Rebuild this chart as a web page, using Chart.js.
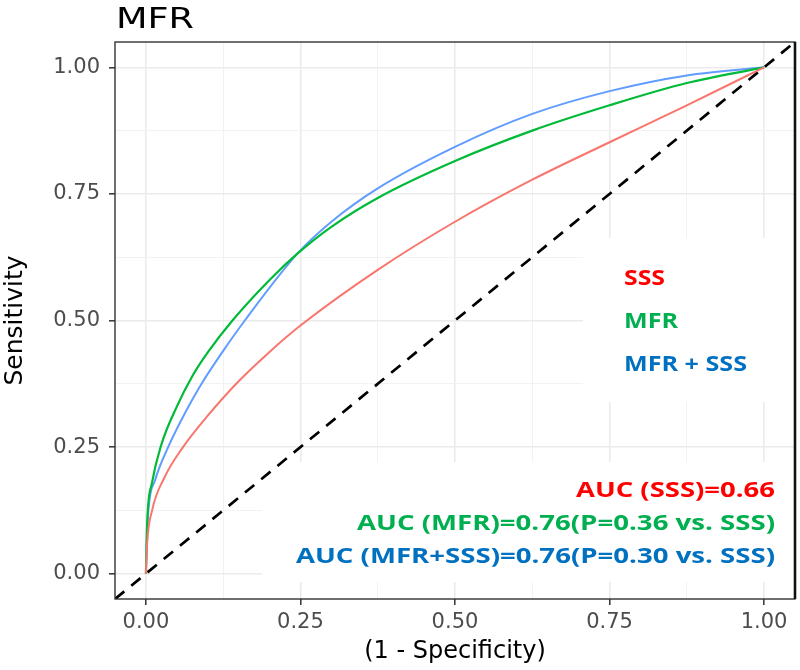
<!DOCTYPE html>
<html>
<head>
<meta charset="utf-8">
<title>MFR ROC</title>
<script src="https://cdn.jsdelivr.net/npm/chart.js@4.4.1/dist/chart.umd.min.js"></script>
<style>
  html, body { margin: 0; padding: 0; background: #fff; }
  #wrap { width: 800px; height: 670px; }
</style>
</head>
<body>
<div id="wrap"><canvas id="rocChart"></canvas></div>
<script>
// ROC curves: x = 1 - specificity, y = sensitivity
const sssFpr = [0, 0.002, 0.01, 0.03, 0.06, 0.1, 0.15, 0.2, 0.25, 0.375, 0.5, 0.625, 0.75, 0.875, 1];
const sssTpr = [0, 0.06, 0.125, 0.19, 0.25, 0.312, 0.38, 0.438, 0.49, 0.6, 0.695, 0.778, 0.852, 0.925, 1];

const mfrFpr = [0, 0.002, 0.01, 0.025, 0.05, 0.075, 0.1, 0.14, 0.2, 0.245, 0.3, 0.375, 0.5, 0.625, 0.75, 0.875, 1];
const mfrTpr = [0, 0.1, 0.18, 0.255, 0.33, 0.39, 0.437, 0.5, 0.58, 0.632, 0.685, 0.742, 0.815, 0.875, 0.925, 0.969, 1];

const bothFpr = [0, 0.001, 0.004, 0.015, 0.036, 0.058, 0.09, 0.125, 0.16, 0.245, 0.3, 0.375, 0.5, 0.625, 0.75, 0.875, 1];
const bothTpr = [0, 0.05, 0.125, 0.185, 0.25, 0.305, 0.375, 0.44, 0.5, 0.632, 0.695, 0.761, 0.843, 0.908, 0.953, 0.984, 1];

// reference diagonal, across the whole panel
const diagX = [-0.05, 1.05];
const diagY = [-0.05, 1.05];

const majorTicks = [0, 0.25, 0.5, 0.75, 1];
const minorTicks = [0.125, 0.375, 0.625, 0.875];
const tickLabels = ['0.00', '0.25', '0.50', '0.75', '1.00'];
const axisMin = -0.05;
const axisMax = 1.05;

const legendLabels = ['SSS', 'MFR', 'MFR + SSS'];
const aucLabels = ['AUC (SSS)=0.66', 'AUC (MFR)=0.76(P=0.36 vs. SSS)', 'AUC (MFR+SSS)=0.76(P=0.30 vs. SSS)'];
const textColors = ['#ff0000', '#00b050', '#0070c0'];

const toPoints = (xs, ys) => xs.map((x, i) => ({ x: x, y: ys[i] }));
const isMajor = v => majorTicks.indexOf(v) >= 0;

function setTicks(scale) {
    scale.ticks = majorTicks.concat(minorTicks).sort((a, b) => a - b).map(v => ({ value: v }));
}

// draws text squeezed/stretched to a given width
function fitText(ctx, text, x, baseline, width, align) {
    const w = ctx.measureText(text).width;
    ctx.save();
    ctx.translate(align === 'right' ? x - width : x, baseline);
    ctx.scale(width / w, 1);
    ctx.textAlign = 'left';
    ctx.textBaseline = 'alphabetic';
    ctx.fillText(text, 0, 0);
    ctx.restore();
}

const gridOpts = {
    color: c => (c.tick && isMajor(c.tick.value)) ? '#ebebeb' : '#f2f2f2',
    lineWidth: c => (c.tick && isMajor(c.tick.value)) ? 1.6 : 1,
    tickColor: c => (c.tick && isMajor(c.tick.value)) ? '#333333' : 'rgba(0,0,0,0)',
    tickWidth: 1.5,
    tickLength: 6
};

const overlay = {
    id: 'overlay',
    beforeDatasetsDraw(chart) {
        const ctx = chart.ctx;
        // white boxes behind the legend and AUC text hide the grid there
        ctx.save();
        ctx.fillStyle = '#ffffff';
        ctx.fillRect(583, 238, 211, 164);
        ctx.fillRect(262, 462, 532, 120);
        ctx.restore();
    },
    afterDraw(chart) {
        const ctx = chart.ctx;
        const a = chart.chartArea;
        ctx.save();
        ctx.strokeStyle = '#333333';
        ctx.lineWidth = 1.4;
        ctx.strokeRect(a.left, a.top, a.right - a.left, a.bottom - a.top);
        ctx.strokeStyle = '#111111';
        ctx.lineWidth = 2.6;
        ctx.beginPath();
        ctx.moveTo(a.right, a.top);
        ctx.lineTo(a.right, a.bottom);
        ctx.stroke();

        // title
        ctx.fillStyle = '#000000';
        ctx.font = '29px "DejaVu Sans"';
        fitText(ctx, 'MFR', 116, 28, 78, 'left');

        // legend text
        ctx.font = 'bold 21px "Open Sans"';
        const legendBase = [285, 328, 371];
        const legendWidth = [41, 54, 123];
        legendLabels.forEach((t, i) => {
            ctx.fillStyle = textColors[i];
            fitText(ctx, t, 624, legendBase[i], legendWidth[i], 'left');
        });

        // AUC text
        const aucBase = [497, 530, 563];
        const aucWidth = [199, 418, 479];
        aucLabels.forEach((t, i) => {
            ctx.fillStyle = textColors[i];
            fitText(ctx, t, 775, aucBase[i], aucWidth[i], 'right');
        });
        ctx.restore();
    }
};

new Chart(document.getElementById('rocChart'), {
    type: 'line',
    data: {
        datasets: [
            {
                label: 'SSS',
                data: toPoints(sssFpr, sssTpr),
                borderColor: '#f8766d',
                borderWidth: 2,
                cubicInterpolationMode: 'monotone',
                pointRadius: 0
            },
            {
                label: 'MFR',
                data: toPoints(mfrFpr, mfrTpr),
                borderColor: '#00ba38',
                borderWidth: 2.2,
                cubicInterpolationMode: 'monotone',
                pointRadius: 0
            },
            {
                label: 'MFR + SSS',
                data: toPoints(bothFpr, bothTpr),
                borderColor: '#619cff',
                borderWidth: 2,
                cubicInterpolationMode: 'monotone',
                pointRadius: 0
            },
            {
                label: 'reference',
                data: toPoints(diagX, diagY),
                borderColor: '#000000',
                borderWidth: 2.7,
                borderDash: [12, 9],
                pointRadius: 0
            }
        ]
    },
    options: {
        responsive: true,
        maintainAspectRatio: false,
        animation: false,
        layout: {
            padding: { left: 0, right: 5, top: 42, bottom: 0 }
        },
        scales: {
            x: {
                type: 'linear',
                min: axisMin,
                max: axisMax,
                afterBuildTicks: setTicks,
                afterFit: scale => { scale.height = 71; },
                grid: gridOpts,
                border: { display: false },
                ticks: {
                    autoSkip: false,
                    maxRotation: 0,
                    padding: 5,
                    color: '#4d4d4d',
                    font: { family: 'DejaVu Sans', size: 21 },
                    callback: v => isMajor(v) ? tickLabels[majorTicks.indexOf(v)] : ''
                },
                title: {
                    display: true,
                    text: '(1 - Specificity)',
                    color: '#000000',
                    font: { family: 'DejaVu Sans', size: 24 },
                    padding: { top: 0, bottom: 4 }
                }
            },
            y: {
                type: 'linear',
                min: axisMin,
                max: axisMax,
                afterBuildTicks: setTicks,
                afterFit: scale => { scale.width = 115; },
                grid: gridOpts,
                border: { display: false },
                ticks: {
                    autoSkip: false,
                    padding: 9,
                    color: '#4d4d4d',
                    font: { family: 'DejaVu Sans', size: 21 },
                    callback: v => isMajor(v) ? tickLabels[majorTicks.indexOf(v)] : ''
                },
                title: {
                    display: true,
                    text: 'Sensitivity',
                    color: '#000000',
                    font: { family: 'DejaVu Sans', size: 25 },
                    padding: 0
                }
            }
        },
        plugins: {
            legend: { display: false },
            tooltip: { enabled: false }
        }
    },
    plugins: [overlay]
});
</script>
</body>
</html>
